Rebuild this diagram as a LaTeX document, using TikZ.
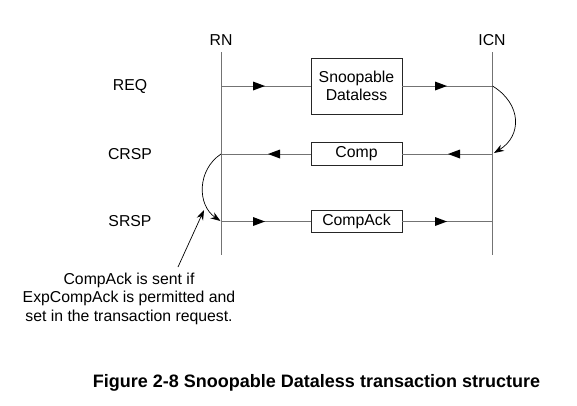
\documentclass[tikz,border=0pt]{standalone}
\usepackage{fontspec}
\setmainfont{Liberation Sans}
\usetikzlibrary{arrows.meta}
\begin{document}
\begin{tikzpicture}[x=1pt,y=-1pt,
  lbl/.style={font=\fontsize{15.8}{18.5}\selectfont, inner sep=0pt},
  msgbox/.style={draw=black!85, line width=0.8pt, fill=white, font=\fontsize{15.8}{18.5}\selectfont, align=center, inner sep=0pt, minimum width=91pt},
  life/.style={draw=black!55, line width=1pt},
  msg/.style={draw=black!55, line width=1pt},
  curv/.style={draw=black, line width=0.7pt, -{Stealth[length=10pt,width=7pt]}}
]
\useasboundingbox (0,0) rectangle (577,405);
% labels
\node[lbl] (rnl) at (221,40) {RN};
\node[lbl] (icnl) at (492,40) {ICN};
\node[lbl] (req) at (130,86) {REQ};
\node[lbl] (crsp) at (130,154) {CRSP};
\node[lbl] (srsp) at (130,221) {SRSP};
% lifelines
\coordinate (rnt) at (221,52);
\coordinate (rnb) at (221,255);
\coordinate (icnt) at (492.5,52);
\coordinate (icnb) at (492.5,255);
\draw[life] (rnt) -- (rnb);
\draw[life] (icnt) -- (icnb);
% row points
\coordinate (r1) at (221,86);
\coordinate (i1) at (492.5,86);
\coordinate (r2) at (221,154);
\coordinate (i2) at (492.5,154);
\coordinate (r3) at (221,221.5);
\coordinate (i3) at (492.5,221.5);
% boxes
\node[msgbox, minimum height=56pt] (sd) at (356.5,86) {Snoopable\\Dataless};
\node[msgbox, minimum height=22.5pt] (comp) at (356.5,154) {Comp};
\node[msgbox, minimum height=22.5pt] (cack) at (356.5,221.5) {CompAck};
% arrowhead points
\coordinate (a1) at (265,86);
\coordinate (a2) at (447,86);
\coordinate (a3) at (268,154);
\coordinate (a4) at (448,154);
\coordinate (a5) at (265,221.5);
\coordinate (a6) at (447,221.5);
% REQ
\draw[msg] (r1) -- (sd.west);
\draw[msg] (sd.east) -- (i1);
\fill[black] (a1) -- ++(-12,-4.5) -- ++(0,9) -- cycle;
\fill[black] (a2) -- ++(-12,-4.5) -- ++(0,9) -- cycle;
% CRSP
\draw[msg] (i2) -- (comp.east);
\draw[msg] (comp.west) -- (r2);
\fill[black] (a3) -- ++(12,-4.5) -- ++(0,9) -- cycle;
\fill[black] (a4) -- ++(12,-4.5) -- ++(0,9) -- cycle;
% SRSP
\draw[msg] (r3) -- (cack.west);
\draw[msg] (cack.east) -- (i3);
\fill[black] (a5) -- ++(-12,-4.5) -- ++(0,9) -- cycle;
\fill[black] (a6) -- ++(-12,-4.5) -- ++(0,9) -- cycle;
% curved arrows
\coordinate (ce1) at (494,153);
\draw[curv] (i1) .. controls (522,104) and (522,136) .. (ce1);
\coordinate (ce2) at (220.5,221);
\draw[curv] (r2) .. controls (197,170) and (197,205) .. (ce2);
% note
\node[lbl, align=center] (note) at (129,298.5) {CompAck is sent if\\ExpCompAck is permitted and\\set in the transaction request.};
\coordinate (ps) at (178,267);
\coordinate (pe) at (204,210);
\draw[black, line width=0.7pt, -{Stealth[length=10pt,width=7pt]}] (ps) -- (pe);
% caption
\node[lbl, font=\bfseries\fontsize{18}{21}\selectfont] (cap) at (316.5,383) {Figure 2-8 Snoopable Dataless transaction structure};
\end{tikzpicture}
\end{document}
